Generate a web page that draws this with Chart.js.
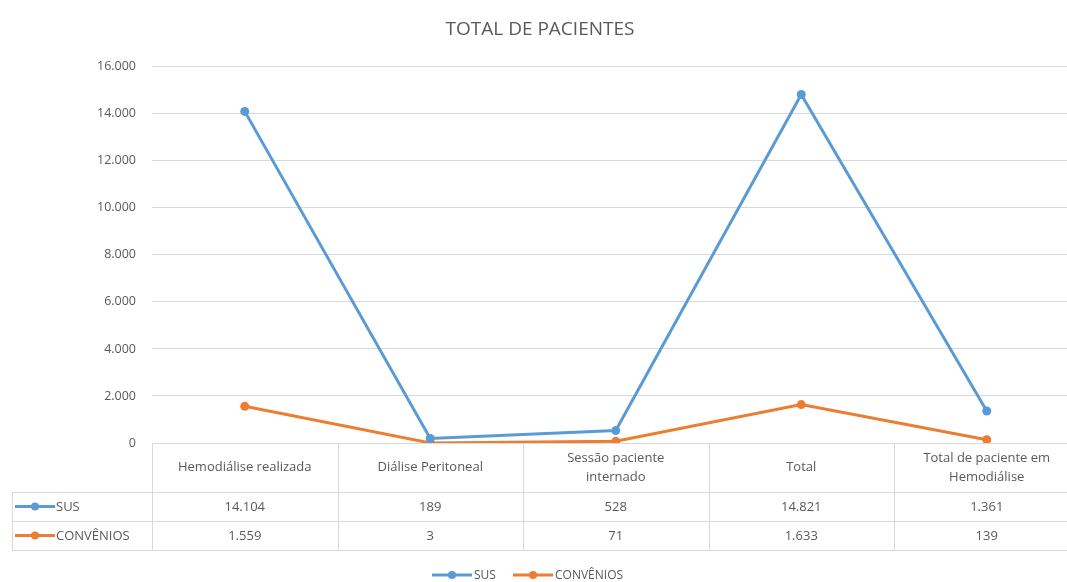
<!DOCTYPE html>
<html>
<head>
<meta charset="utf-8">
<script src="https://cdn.jsdelivr.net/npm/chart.js@4.4.1/dist/chart.umd.min.js"></script>
<style>
  html, body { margin: 0; padding: 0; background: #fff; overflow: hidden; }
  #wrap { position: relative; width: 1084px; height: 582px; }
</style>
</head>
<body>
<div id="wrap"><canvas id="chart"></canvas></div>
<script>
var categories = [
  ["Hemodiálise realizada"],
  ["Diálise Peritoneal"],
  ["Sessão paciente", "internado"],
  ["Total"],
  ["Total de paciente em", "Hemodiálise"]
];
var seriesNames = ["SUS", "CONVÊNIOS"];
var susValues = [14104, 189, 528, 14821, 1361];
var convValues = [1559, 3, 71, 1633, 139];
var yTicks = [0, 2000, 4000, 6000, 8000, 10000, 12000, 14000, 16000];

var BLUE = "#5b9bd5";
var ORANGE = "#ed7d31";
var TEXT = "#595959";
var GRID = "#d9d9d9";
var FONT = "'Open Sans', 'Liberation Sans', sans-serif";

function fmt(n) {
  return String(n).replace(/\B(?=(\d{3})+(?!\d))/g, ".");
}

function drawKey(ctx, x, y, color) {
  ctx.save();
  ctx.strokeStyle = color;
  ctx.lineWidth = 3;
  ctx.beginPath();
  ctx.moveTo(x, y);
  ctx.lineTo(x + 40, y);
  ctx.stroke();
  ctx.fillStyle = color;
  ctx.beginPath();
  ctx.arc(x + 20, y, 4, 0, Math.PI * 2);
  ctx.fill();
  ctx.restore();
}

var tablePlugin = {
  id: "dataTable",
  afterDraw: function (chart) {
    var ctx = chart.ctx;
    var xs = chart.scales.x;
    var area = chart.chartArea;
    var top = area.bottom;
    var rows = [top, top + 49, top + 78, top + 107];
    var colW = xs.getPixelForValue(1) - xs.getPixelForValue(0);
    var left = area.left;
    var right = xs.getPixelForValue(categories.length - 1) + colW / 2;
    var labelLeft = 12;

    ctx.save();
    ctx.strokeStyle = GRID;
    ctx.lineWidth = 1;
    ctx.beginPath();
    ctx.moveTo(labelLeft, rows[1] + 0.5); ctx.lineTo(right, rows[1] + 0.5);
    ctx.moveTo(labelLeft, rows[2] + 0.5); ctx.lineTo(right, rows[2] + 0.5);
    ctx.moveTo(labelLeft, rows[3] + 0.5); ctx.lineTo(right, rows[3] + 0.5);
    ctx.moveTo(labelLeft + 0.5, rows[1]); ctx.lineTo(labelLeft + 0.5, rows[3]);
    for (var i = 0; i <= categories.length; i++) {
      var vx = Math.round(left + i * colW) + 0.5;
      ctx.moveTo(vx, top); ctx.lineTo(vx, rows[3]);
    }
    ctx.stroke();

    ctx.fillStyle = TEXT;
    ctx.font = "13px " + FONT;
    ctx.textAlign = "center";
    ctx.textBaseline = "middle";
    categories.forEach(function (lines, i) {
      var cx = xs.getPixelForValue(i);
      var mid = (rows[0] + rows[1]) / 2;
      if (lines.length === 1) {
        ctx.fillText(lines[0], cx, mid);
      } else {
        ctx.fillText(lines[0], cx, mid - 9);
        ctx.fillText(lines[1], cx, mid + 10);
      }
      ctx.fillText(fmt(susValues[i]), cx, (rows[1] + rows[2]) / 2 + 1);
      ctx.fillText(fmt(convValues[i]), cx, (rows[2] + rows[3]) / 2 + 1);
    });

    ctx.textAlign = "left";
    drawKey(ctx, labelLeft + 3, (rows[1] + rows[2]) / 2, BLUE);
    ctx.fillText(seriesNames[0], labelLeft + 44, (rows[1] + rows[2]) / 2 + 1);
    drawKey(ctx, labelLeft + 3, (rows[2] + rows[3]) / 2, ORANGE);
    ctx.fillText(seriesNames[1], labelLeft + 44, (rows[2] + rows[3]) / 2 + 1);

    // legend
    var ly = 575;
    ctx.font = "12px " + FONT;
    drawKey(ctx, 432, ly, BLUE);
    ctx.fillText(seriesNames[0], 474, ly + 1);
    drawKey(ctx, 513, ly, ORANGE);
    ctx.fillText(seriesNames[1], 555, ly + 1);
    ctx.restore();
  }
};

new Chart(document.getElementById("chart"), {
  type: "line",
  data: {
    labels: categories,
    datasets: [
      {
        label: seriesNames[0],
        data: susValues,
        borderColor: BLUE,
        backgroundColor: BLUE,
        borderWidth: 3,
        pointRadius: 4.5,
        pointBorderWidth: 0,
        tension: 0
      },
      {
        label: seriesNames[1],
        data: convValues,
        borderColor: ORANGE,
        backgroundColor: ORANGE,
        borderWidth: 3,
        pointRadius: 4.5,
        pointBorderWidth: 0,
        tension: 0
      }
    ]
  },
  options: {
    responsive: true,
    maintainAspectRatio: false,
    animation: false,
    layout: { padding: { top: 0, right: 4, bottom: 131, left: 0 } },
    plugins: {
      legend: { display: false },
      tooltip: { enabled: false },
      title: {
        display: true,
        text: "TOTAL DE PACIENTES",
        color: TEXT,
        font: { family: FONT, size: 19, weight: "normal" },
        padding: { top: 18, bottom: 26 }
      }
    },
    scales: {
      x: {
        offset: true,
        grid: { display: false },
        border: { display: false },
        ticks: { display: false }
      },
      y: {
        min: 0,
        max: 16000,
        afterBuildTicks: function (scale) {
          scale.ticks = yTicks.map(function (v) { return { value: v }; });
        },
        afterFit: function (scale) { scale.width = 152; },
        grid: { color: GRID, drawTicks: false, lineWidth: 1 },
        border: { display: false },
        ticks: {
          color: TEXT,
          padding: 16,
          font: { family: FONT, size: 12.5 },
          callback: function (v) { return fmt(v); }
        }
      }
    }
  },
  plugins: [tablePlugin]
});
</script>
</body>
</html>
